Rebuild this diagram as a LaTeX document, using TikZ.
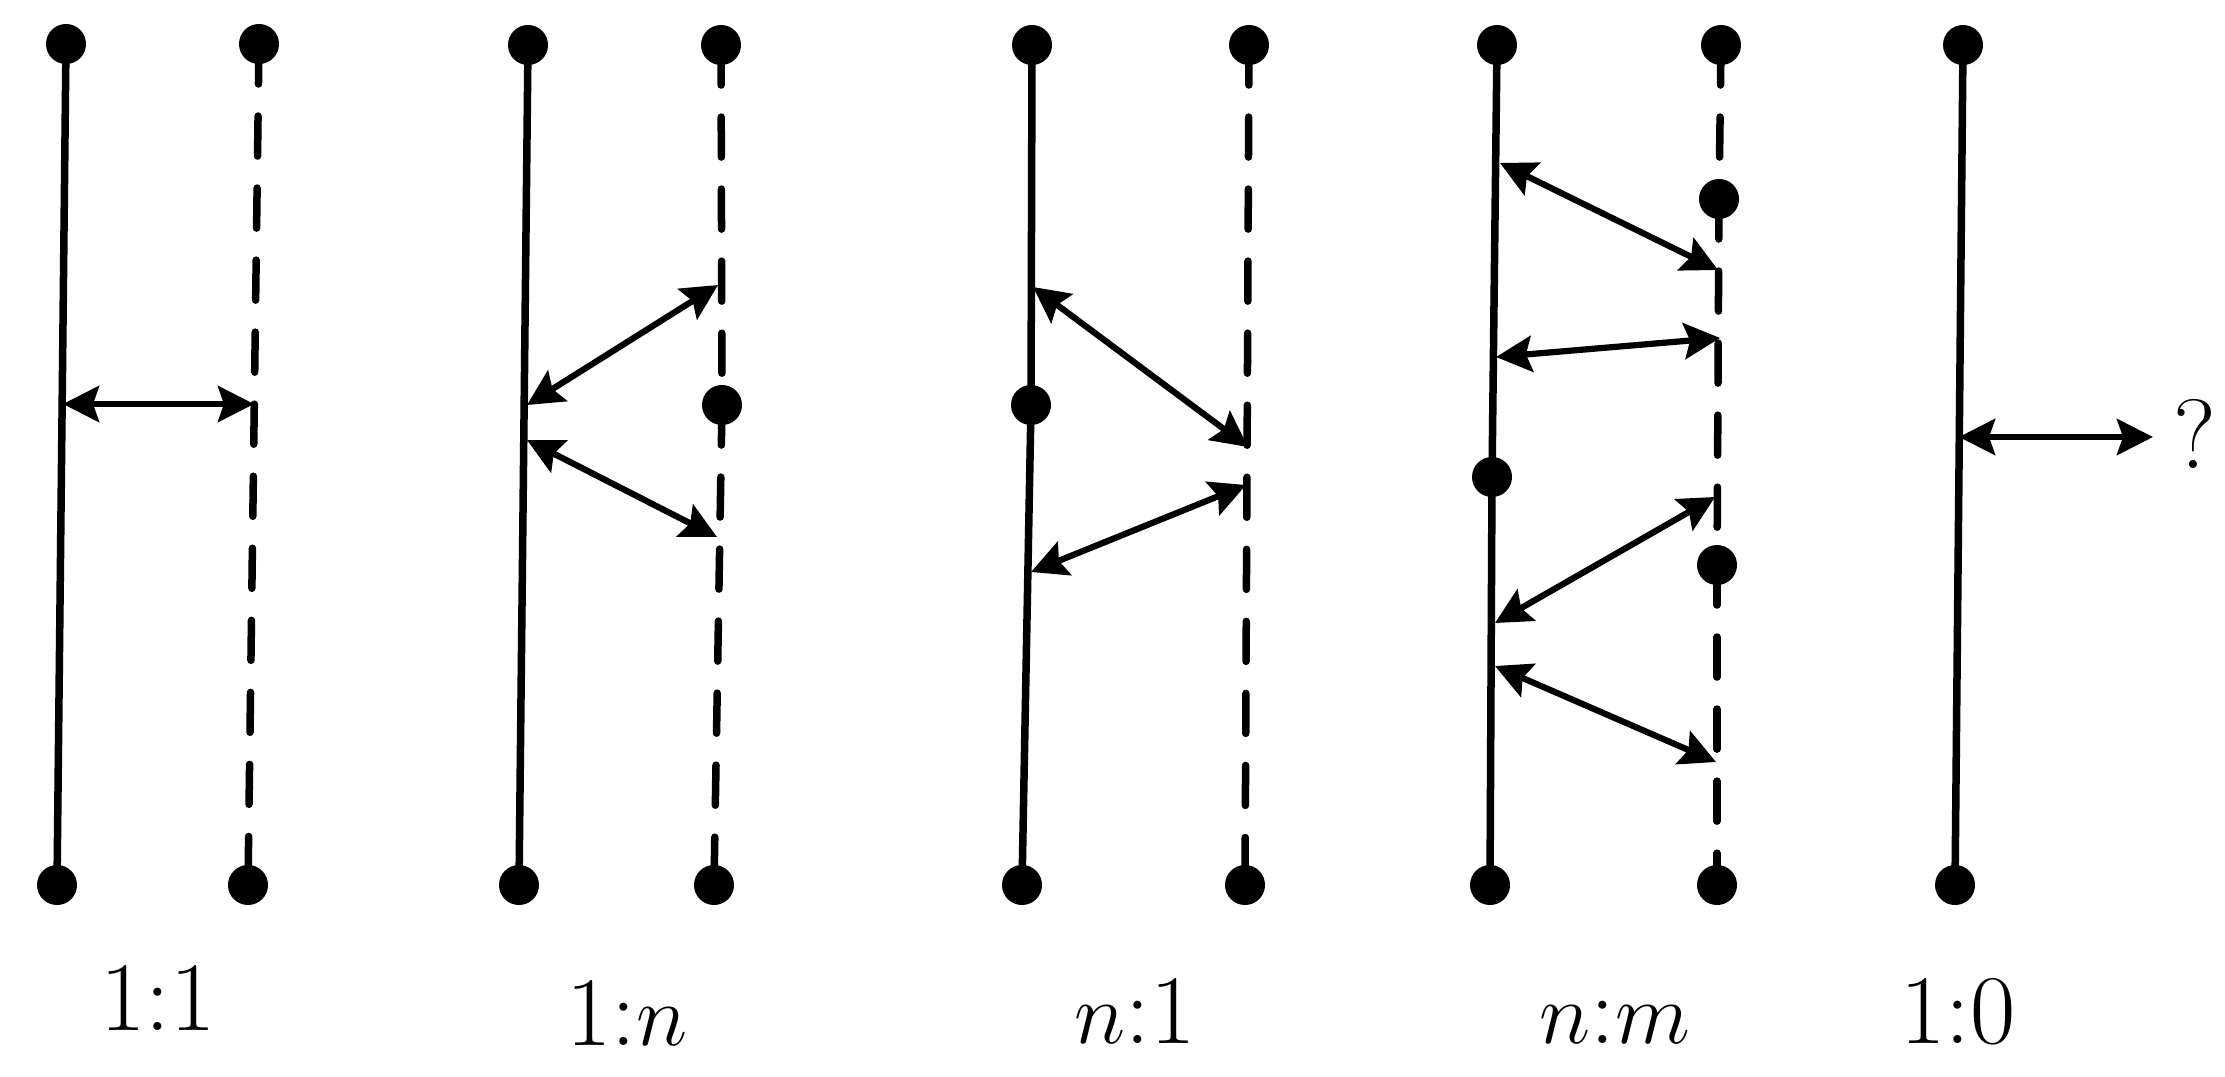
\documentclass[tikz,border=0pt]{standalone}
\usetikzlibrary{arrows.meta}

\begin{document}
\begin{tikzpicture}[
    x=0.01cm, y=-0.01cm,
    dot/.style={circle, fill=black, inner sep=0pt, minimum size=0.40cm},
    life/.style={line width=0.075cm},
    ghost/.style={line width=0.075cm, line cap=round, dash pattern=on 0.40cm off 0.32cm},
    link/.style={{Stealth[length=0.36cm, width=0.36cm, inset=0.06cm]}-{Stealth[length=0.36cm, width=0.36cm, inset=0.06cm]}, line width=0.062cm},
    ratio/.style={font=\fontsize{28}{32}\selectfont, anchor=base}
]
    \useasboundingbox (0,0) rectangle (2225,1076);

    % 1:1
    \coordinate (a1) at (66,44);
    \coordinate (a2) at (57,885);
    \coordinate (b1) at (259,44);
    \coordinate (b2) at (248,885);
    \coordinate (pa) at (63,404);
    \coordinate (pb) at (254,404);

    % 1:n
    \coordinate (c1) at (528,45);
    \coordinate (c2) at (519,885);
    \coordinate (d1) at (721,45);
    \coordinate (dm) at (722,405);
    \coordinate (d2) at (714,885);
    \coordinate (pc1) at (527,405);
    \coordinate (pd1) at (718,285);
    \coordinate (pc2) at (527,440);
    \coordinate (pd2) at (717,537);

    % n:1
    \coordinate (e1) at (1032,45);
    \coordinate (em) at (1031,405);
    \coordinate (e2) at (1022,885);
    \coordinate (f1) at (1249,45);
    \coordinate (f2) at (1245,885);
    \coordinate (pe1) at (1033,287);
    \coordinate (pf1) at (1248,447);
    \coordinate (pe2) at (1031,572);
    \coordinate (pf2) at (1246,485);

    % n:m
    \coordinate (g1) at (1497,45);
    \coordinate (gm) at (1492,477);
    \coordinate (g2) at (1490,885);
    \coordinate (h1) at (1721,45);
    \coordinate (hm1) at (1719,199);
    \coordinate (hm2) at (1717,565);
    \coordinate (h2) at (1717,885);
    \coordinate (pg1) at (1500,163);
    \coordinate (ph1) at (1718,270);
    \coordinate (pg2) at (1496,357);
    \coordinate (ph2) at (1720,338);
    \coordinate (pg3) at (1495,623);
    \coordinate (ph3) at (1715,497);
    \coordinate (pg4) at (1495,666);
    \coordinate (ph4) at (1716,762);

    % 1:0
    \coordinate (k1) at (1963,45);
    \coordinate (k2) at (1955,885);
    \coordinate (pk) at (1959,437);
    \coordinate (pq) at (2153,437);

    % Lines
    \draw[life] (a1) -- (a2);
    \draw[ghost] (b1) -- (b2);
    \draw[life] (c1) -- (c2);
    \draw[ghost] (d1) -- (dm);
    \draw[ghost] (dm) -- (d2);
    \draw[life] (e1) -- (em) -- (e2);
    \draw[ghost] (f1) -- (f2);
    \draw[life] (g1) -- (gm) -- (g2);
    \draw[ghost] (h1) -- (hm1);
    \draw[ghost] (hm1) -- (hm2);
    \draw[ghost] (hm2) -- (h2);
    \draw[life] (k1) -- (k2);

    % Dots
    \foreach \c in {a1,a2,b1,b2,c1,c2,d1,dm,d2,e1,em,e2,f1,f2,g1,gm,g2,h1,hm1,hm2,h2,k1,k2}
        \node[dot] at (\c) {};

    % Arrows
    \draw[link] (pa) -- (pb);
    \draw[link] (pc1) -- (pd1);
    \draw[link] (pc2) -- (pd2);
    \draw[link] (pe1) -- (pf1);
    \draw[link] (pe2) -- (pf2);
    \draw[link] (pg1) -- (ph1);
    \draw[link] (pg2) -- (ph2);
    \draw[link] (pg3) -- (ph3);
    \draw[link] (pg4) -- (ph4);
    \draw[link] (pk) -- (pq);
    \node[ratio] (qm) at (2195,468) {?};

    % Labels
    \node[ratio] (l11) at (158,1030) {1:1};
    \node[ratio] (l1n) at (627,1045) {1:$n$};
    \node[ratio] (ln1) at (1135,1043) {$n$:1};
    \node[ratio] (lnm) at (1615,1043) {$n$:$m$};
    \node[ratio] (l10) at (1958,1043) {1:0};
\end{tikzpicture}
\end{document}
